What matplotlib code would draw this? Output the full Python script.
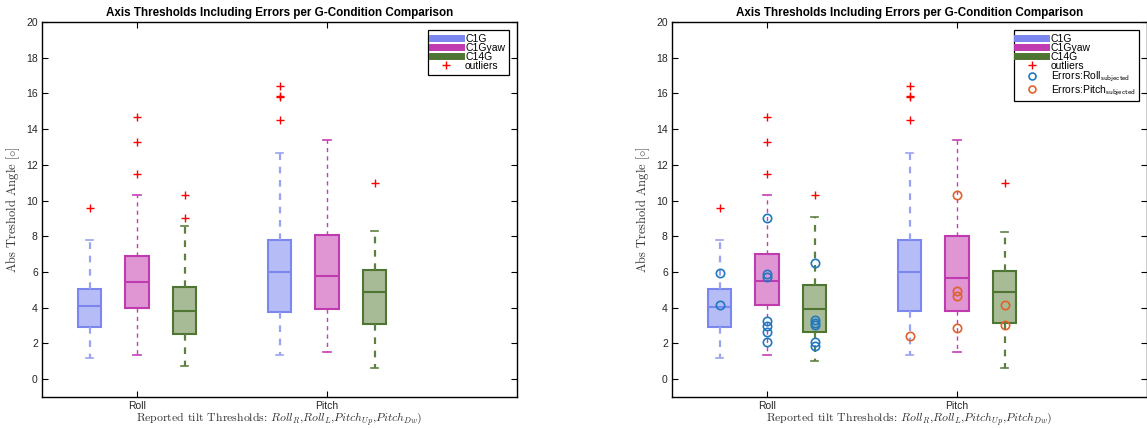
import matplotlib.pyplot as plt
from matplotlib.lines import Line2D

plt.rcParams["font.family"] = ["Liberation Sans", "DejaVu Sans"]
plt.rcParams["mathtext.fontset"] = "cm"

categories = ["Roll", "Pitch"]
conditions = ["C1G", "C1Gyaw", "C14G"]

# five-number summaries per condition, one value per category (Roll, Pitch)
base_whislo = {"C1G": [1.2, 1.33], "C1Gyaw": [1.38, 1.5], "C14G": [0.71, 0.6]}
base_q1 = {"C1G": [2.93, 3.78], "C1Gyaw": [4.0, 3.91], "C14G": [2.52, 3.1]}
base_med = {"C1G": [4.07, 5.98], "C1Gyaw": [5.42, 5.76], "C14G": [3.83, 4.88]}
base_q3 = {"C1G": [5.03, 7.78], "C1Gyaw": [6.88, 8.09], "C14G": [5.16, 6.09]}
base_whishi = {"C1G": [7.81, 12.66], "C1Gyaw": [10.3, 13.39], "C14G": [8.58, 8.32]}
base_fliers = {
    "C1G": [[9.59], [14.5, 15.8, 15.86, 16.44]],
    "C1Gyaw": [[11.5, 13.3, 14.68], []],
    "C14G": [[9.05, 10.3], [11.0]],
}

err_whislo = {"C1G": [1.2, 1.33], "C1Gyaw": [1.38, 1.5], "C14G": [1.01, 0.6]}
err_q1 = {"C1G": [2.93, 3.81], "C1Gyaw": [4.17, 3.83], "C14G": [2.64, 3.12]}
err_med = {"C1G": [4.04, 6.0], "C1Gyaw": [5.51, 5.64], "C14G": [3.93, 4.88]}
err_q3 = {"C1G": [5.03, 7.81], "C1Gyaw": [7.0, 8.02], "C14G": [5.27, 6.06]}
err_whishi = {"C1G": [7.81, 12.66], "C1Gyaw": [10.3, 13.39], "C14G": [9.08, 8.26]}
err_fliers = {
    "C1G": [[9.59], [14.5, 15.8, 15.86, 16.44]],
    "C1Gyaw": [[11.5, 13.3, 14.68], []],
    "C14G": [[10.3], [11.0]],
}

# subjected errors: Roll errors in blue, Pitch errors in orange
roll_errors = {
    "C1G": [5.93, 4.17],
    "C1Gyaw": [9.0, 5.89, 5.7, 3.27, 2.95, 2.64, 2.06],
    "C14G": [6.52, 3.33, 3.14, 3.05, 2.09, 1.83],
}
pitch_errors = {
    "C1G": [2.39],
    "C1Gyaw": [10.3, 4.95, 4.67, 2.84],
    "C14G": [4.15, 3.01],
}

edge_colors = {"C1G": "#7b86ee", "C1Gyaw": "#c03ab0", "C14G": "#4f7532"}
fill_colors = {"C1G": "#b6bdf6", "C1Gyaw": "#df96d3", "C14G": "#a8bb97"}
whisker_colors = {"C1G": "#9aa3f3", "C1Gyaw": "#c63cb6", "C14G": "#5d8040"}
whisker_widths = {"C1G": 1.6, "C1Gyaw": 1.0, "C14G": 1.6}
offsets = {"C1G": -0.25, "C1Gyaw": 0.0, "C14G": 0.25}
roll_err_color = "#1f78c1"
pitch_err_color = "#e0622a"

title = "Axis Thresholds Including Errors per G-Condition Comparison"
ylabel = r"Abs Treshold Angle [$\circ$]"
xlabel = r"Reported tilt Thresholds: $Roll_R$,$Roll_L$,$Pitch_{Up}$,$Pitch_{Dw}$)"


def draw_panel(ax, whislo, q1, med, q3, whishi, fliers, with_errors):
    for cond in conditions:
        stats = []
        for i in range(len(categories)):
            stats.append({
                "whislo": whislo[cond][i], "q1": q1[cond][i], "med": med[cond][i],
                "q3": q3[cond][i], "whishi": whishi[cond][i], "fliers": fliers[cond][i],
            })
        pos = [i + 1 + offsets[cond] for i in range(len(categories))]
        ax.bxp(
            stats, positions=pos, widths=0.125, capwidths=0.04, patch_artist=True,
            manage_ticks=False,
            boxprops=dict(facecolor=fill_colors[cond], edgecolor=edge_colors[cond], lw=1.5),
            medianprops=dict(color=edge_colors[cond], lw=1.5),
            whiskerprops=dict(color=whisker_colors[cond], lw=whisker_widths[cond],
                              linestyle=(0, (3, 3))),
            capprops=dict(color=whisker_colors[cond], lw=1.2),
            flierprops=dict(marker="+", markeredgecolor="red", markersize=6, lw=0,
                            markeredgewidth=1.0),
        )
        if with_errors:
            for i, errs in enumerate([roll_errors, pitch_errors]):
                col = roll_err_color if i == 0 else pitch_err_color
                ax.plot([i + 1 + offsets[cond]] * len(errs[cond]), errs[cond], "o",
                        mfc="none", mec=col, ms=6, mew=1.2, zorder=5)

    ax.set_xlim(0.5, 3.0)
    ax.set_ylim(-1, 20)
    ax.set_yticks(range(0, 21, 2))
    ax.set_xticks([1, 2])
    ax.set_xticklabels(categories)
    ax.tick_params(direction="in", length=4, labelsize=7.5, top=True, right=True,
                   pad=3, labelcolor="#262626")
    for sp in ax.spines.values():
        sp.set_linewidth(1.0)
    ax.set_title(title, fontsize=8.4, fontweight="bold", pad=4)
    ax.set_ylabel(ylabel, fontsize=9, labelpad=3, color="#333333", family="cmr10")
    ax.set_xlabel(xlabel, fontsize=8.5, labelpad=0, color="#333333", family="cmr10")

    handles = [Line2D([], [], color=edge_colors[c], lw=5) for c in conditions]
    labels = list(conditions)
    handles.append(Line2D([], [], marker="+", color="red", lw=0, ms=6))
    labels.append("outliers")
    if with_errors:
        handles.append(Line2D([], [], marker="o", mfc="none", mec=roll_err_color,
                              lw=0, ms=5, mew=1.2))
        labels.append(r"Errors:Roll$_{\mathsf{subjected}}$")
        handles.append(Line2D([], [], marker="o", mfc="none", mec=pitch_err_color,
                              lw=0, ms=5, mew=1.2))
        labels.append(r"Errors:Pitch$_{\mathsf{subjected}}$")
    leg = ax.legend(handles, labels, loc="upper right", fontsize=7.5, fancybox=False,
                    edgecolor="black", framealpha=1, handlelength=2.8,
                    handletextpad=0.4, labelspacing=-0.1, borderpad=0.35,
                    borderaxespad=0.8)
    leg.get_frame().set_linewidth(0.9)


fig = plt.figure(figsize=(11.47, 4.28), dpi=100)
ax1 = fig.add_axes([42 / 1147, 31 / 428, 475 / 1147, 375 / 428])
ax2 = fig.add_axes([672 / 1147, 31 / 428, 475 / 1147, 375 / 428])

draw_panel(ax1, base_whislo, base_q1, base_med, base_q3, base_whishi, base_fliers, False)
draw_panel(ax2, err_whislo, err_q1, err_med, err_q3, err_whishi, err_fliers, True)

fig.savefig("out.png", dpi=100)
